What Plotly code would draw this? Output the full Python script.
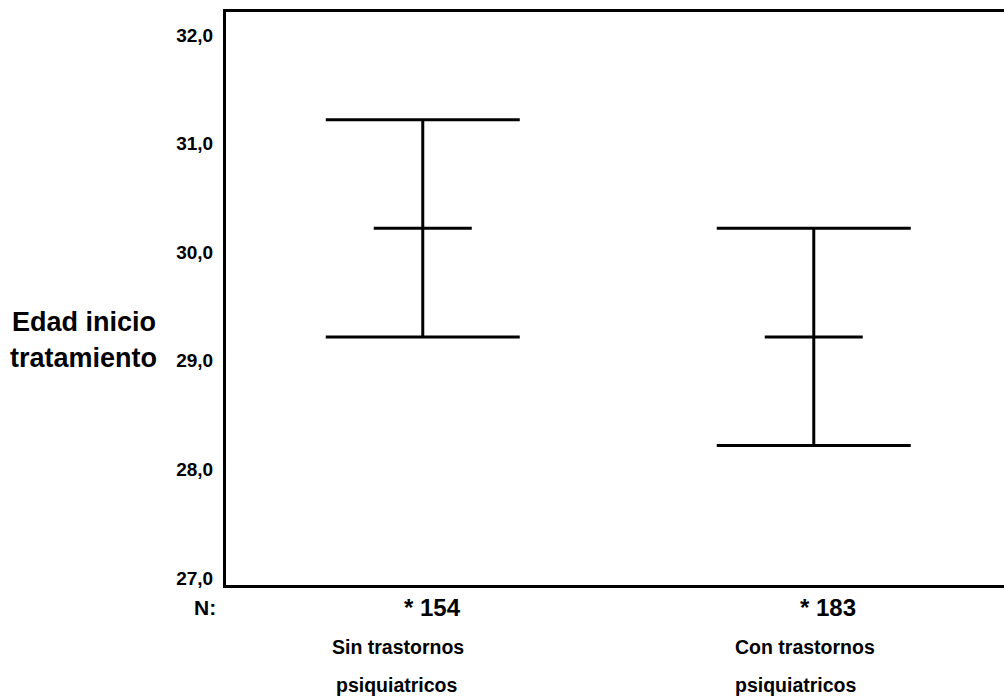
import plotly.graph_objects as go

# Data
categories = ["Sin trastornos<br>psiquiatricos", "Con trastornos<br>psiquiatricos"]
cat_line1 = ["Sin trastornos", "Con trastornos"]
cat_line2 = ["psiquiatricos", "psiquiatricos"]
n_labels = ["* 154", "* 183"]
means = [30.22, 29.22]
upper = [31.22, 30.22]
lower = [29.22, 28.22]
ytick_vals = [27, 28, 29, 30, 31, 32]

xpos = list(range(len(categories)))
err_plus = [u - m for u, m in zip(upper, means)]
err_minus = [m - l for m, l in zip(means, lower)]

fig = go.Figure()
fig.add_trace(go.Scatter(
    x=xpos, y=means, mode="markers",
    marker=dict(symbol="line-ew", size=70, color="black",
                line=dict(color="black", width=3)),
    error_y=dict(type="data", symmetric=False, array=err_plus, arrayminus=err_minus,
                 color="black", thickness=3, width=97),
    showlegend=False, hoverinfo="skip",
))

FONT = "Liberation Sans, Arial, sans-serif"

n_shift = [10, 14]
l1_shift = [-25, -9]
l2_shift = [-26, -18]

annotations = []
annotations.append(dict(xref="paper", yref="paper", x=0, y=0, xshift=-21, yshift=-22,
                        text="<b>N:</b>", showarrow=False, xanchor="center", yanchor="middle",
                        font=dict(family=FONT, size=21, color="black")))
for i in xpos:
    annotations.append(dict(xref="x", yref="paper", x=i, y=0, xshift=n_shift[i], yshift=-22,
                            text="<b>" + n_labels[i] + "</b>", showarrow=False,
                            xanchor="center", yanchor="middle",
                            font=dict(family=FONT, size=24, color="black")))
    annotations.append(dict(xref="x", yref="paper", x=i, y=0, xshift=l1_shift[i], yshift=-62,
                            text="<b>" + cat_line1[i] + "</b>", showarrow=False,
                            xanchor="center", yanchor="middle",
                            font=dict(family=FONT, size=19.5, color="black")))
    annotations.append(dict(xref="x", yref="paper", x=i, y=0, xshift=l2_shift[i], yshift=-100,
                            text="<b>" + cat_line2[i] + "</b>", showarrow=False,
                            xanchor="center", yanchor="middle",
                            font=dict(family=FONT, size=19.5, color="black")))

annotations.append(dict(xref="paper", yref="paper", x=0, y=0.4595, xshift=-216,
                        text="<b>Edad inicio</b>", showarrow=False, xanchor="left", yanchor="middle",
                        font=dict(family=FONT, size=27, color="black")))
annotations.append(dict(xref="paper", yref="paper", x=0, y=0.397, xshift=-218,
                        text="<b>tratamiento</b>", showarrow=False, xanchor="left", yanchor="middle",
                        font=dict(family=FONT, size=27, color="black")))

fig.update_layout(
    width=1004, height=697,
    margin=dict(l=226, r=0, t=12, b=112),
    paper_bgcolor="white", plot_bgcolor="white",
    separators=",.",
    font=dict(family=FONT, color="black"),
    annotations=annotations,
    xaxis=dict(range=[-0.5032, 1.4865], showgrid=False, zeroline=False,
               showticklabels=False, ticks="", showline=True, linecolor="black",
               linewidth=3, mirror=True),
    yaxis=dict(range=[26.936, 32.212], tickvals=ytick_vals, tickformat=".1f",
               showgrid=False, zeroline=False, ticks="", showline=True,
               linecolor="black", linewidth=3, mirror=False,
               tickfont=dict(family=FONT, size=19, color="black", weight="bold"),
               ticklabelstandoff=6),
)

fig.write_html("out.html")
